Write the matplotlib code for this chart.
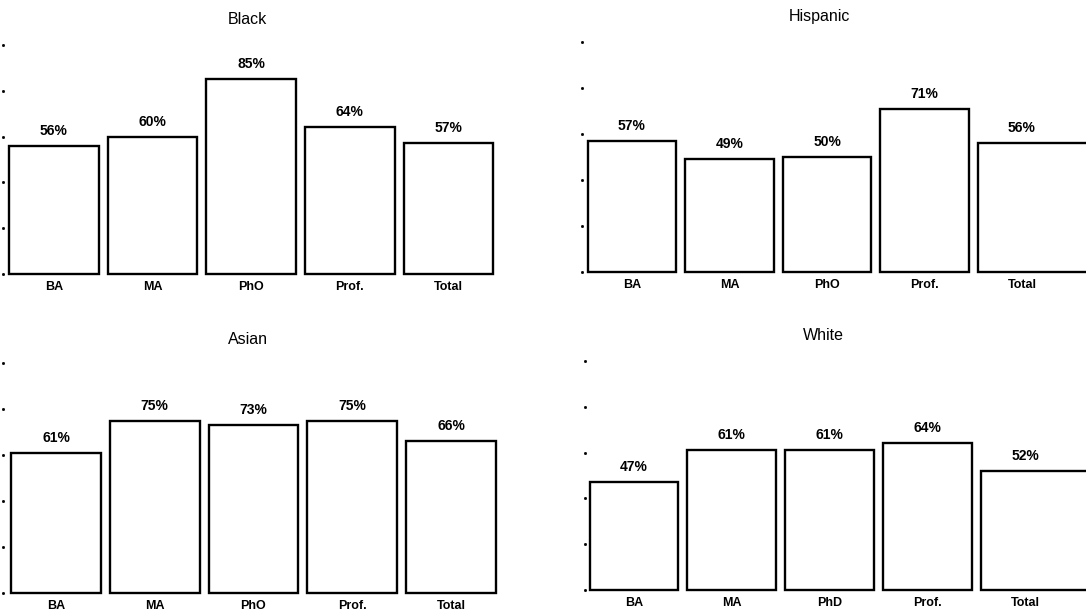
import matplotlib
matplotlib.use("Agg")
import matplotlib.pyplot as plt

plt.rcParams["font.family"] = ["Liberation Sans", "DejaVu Sans"]

# Data
degrees_a = ["BA", "MA", "PhO", "Prof.", "Total"]
degrees_b = ["BA", "MA", "PhD", "Prof.", "Total"]
black = [56, 60, 85, 64, 57]
hispanic = [57, 49, 50, 71, 56]
asian = [61, 75, 73, 75, 66]
white = [47, 61, 61, 64, 52]
y_ticks = [0, 20, 40, 60, 80, 100]

W, H = 1086, 611
fig = plt.figure(figsize=(W / 100, H / 100), dpi=100)

# (title, labels, values, left px, first bar centre px, spacing px,
#  baseline px, 100%-level px, title centre x px, title centre y px, wide last bar)
panels = [
    ("Black", degrees_a, black, 3, 54, 98.6, 274, 45, 247, 20, False),
    ("Hispanic", degrees_a, hispanic, 582, 632, 97.5, 272, 42, 819, 16, True),
    ("Asian", degrees_a, asian, 3, 56, 98.75, 593, 363, 248, 340, False),
    ("White", degrees_b, white, 585, 634, 97.8, 590, 361, 823, 336, True),
]

bar_w = 0.91
for title, labels, vals, x0, c0, sp, base, top, tx, ty, wide in panels:
    a = (c0 - x0) / sp
    b = 4.5
    width_px = sp * (a + b)
    ax = fig.add_axes([x0 / W, 1 - base / H, width_px / W, (base - top) / H])
    ax.set_xlim(-a, b)
    ax.set_ylim(0, 100)
    idx = list(range(len(vals)))
    widths = [bar_w] * len(vals)
    if wide:
        widths[-1] = 1.3
    lefts = [i - bar_w / 2 for i in idx]
    bars = ax.bar(lefts, vals, width=widths, align="edge", color="white",
                  edgecolor="black", linewidth=1.7)
    for bar in bars:
        bar.set_clip_on(False)
    for i, v in zip(idx, vals):
        ax.annotate(f"{v}%", xy=(i, v), xytext=(0, 8), textcoords="offset pixels",
                    ha="center", va="bottom", fontsize=10, fontweight="bold")
    ax.set_xticks(idx)
    ax.set_xticklabels(labels, fontsize=9, fontweight="bold")
    ax.tick_params(axis="x", length=0, pad=5)
    ax.set_yticks([])
    for s in ax.spines.values():
        s.set_visible(False)
    # dotted y-axis marks
    ax.plot([-a] * len(y_ticks), y_ticks, linestyle="none", marker="s",
            markersize=1.0, color="black", clip_on=False)
    fig.text(tx / W, 1 - ty / H, title, ha="center", va="center", fontsize=11.5)

fig.savefig("out.png", dpi=100)
